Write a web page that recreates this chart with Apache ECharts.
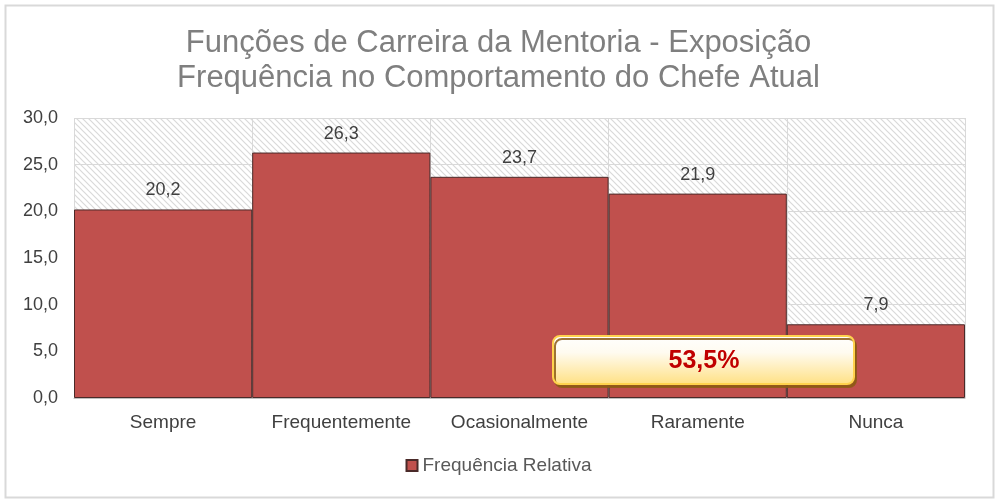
<!DOCTYPE html>
<html><head><meta charset="utf-8">
<script src="https://cdn.jsdelivr.net/npm/echarts@6/dist/echarts.min.js"></script>
<style>html,body{margin:0;padding:0;background:#fff}#c{width:997px;height:504px}</style>
</head><body><div id="c"></div>
<script>
const titleLines = ['Funções de Carreira da Mentoria - Exposição', 'Frequência no Comportamento do Chefe Atual'];
const categories = ['Sempre', 'Frequentemente', 'Ocasionalmente', 'Raramente', 'Nunca'];
const values = [20.2, 26.3, 23.7, 21.9, 7.9];
const seriesName = 'Frequência Relativa';
const annotation = '53,5%';

function hatch() {
  const c = document.createElement('canvas');
  c.width = 6; c.height = 6;
  const g = c.getContext('2d');
  g.fillStyle = '#ffffff'; g.fillRect(0,0,6,6);
  g.strokeStyle = '#d9d9d9'; g.lineWidth = 1.2;
  g.beginPath();
  g.moveTo(-1,-1); g.lineTo(7,7);
  g.moveTo(-4,2); g.lineTo(4,10);
  g.moveTo(2,-4); g.lineTo(10,4);
  g.stroke();
  return c;
}
const FF = 'Liberation Sans, Arial, sans-serif';
const fmt = v => v.toFixed(1).replace('.', ',');
const chart = echarts.init(document.getElementById('c'));
chart.setOption({
  animation: false,
  textStyle: {fontFamily: FF},
  title: {
    text: titleLines.join('\n'), left: 'center', top: 21,
    textStyle: {fontSize: 31, fontWeight: 'normal', color: '#7f7f7f', lineHeight: 35, fontFamily: FF}
  },
  legend: {
    bottom: 24, left: 'center', itemWidth: 11, itemHeight: 11, itemGap: 4,
    icon: 'rect',
    textStyle: {fontSize: 19, color: '#595959'},
    data: [seriesName]
  },
  grid: {left: 74, right: 32, top: 118, bottom: 106, show: true, borderWidth: 0,
    backgroundColor: {image: hatch(), repeat: 'repeat'}},
  xAxis: {
    type: 'category', data: categories,
    axisLine: {lineStyle: {color: '#bfbfbf'}},
    axisTick: {show: false},
    splitLine: {show: true, interval: 0, lineStyle: {color: '#d9d9d9'}},
    axisLabel: {interval: 0, fontSize: 19, color: '#404040', margin: 15}
  },
  yAxis: {
    type: 'value', min: 0, max: 30, interval: 5,
    axisLine: {show: false}, axisTick: {show: false},
    splitLine: {lineStyle: {color: '#d9d9d9'}},
    axisLabel: {fontSize: 18, color: '#404040', formatter: fmt, margin: 16}
  },
  series: [{
    name: seriesName, type: 'bar', data: values, barCategoryGap: '0%',
    itemStyle: {color: '#c0504d', borderColor: '#4a2a29', borderWidth: 1},
    label: {show: true, position: 'top', distance: 10, fontSize: 18, color: '#404040', formatter: p => fmt(p.value)}
  }],
  graphic: [
    {type: 'rect', left: 3, top: 3, shape: {width: 988, height: 492}, style: {fill: 'none', stroke: '#d9d9d9', lineWidth: 2}, silent: true, z: 100},
    {type: 'group', left: 552, top: 335, z: 100, children: [
      {type: 'rect', z: 100, shape: {x: 0, y: 0, width: 301, height: 48, r: 7},
        style: {
          fill: new echarts.graphic.LinearGradient(0,0,0,1,[{offset:0,color:'#ffffff'},{offset:0.35,color:'#fffbf0'},{offset:1,color:'#ffe082'}]),
          stroke: '#ffd24d', lineWidth: 2,
          shadowColor: 'rgba(140,90,20,0.85)', shadowOffsetX: 2, shadowOffsetY: 3, shadowBlur: 0
        }},
      {type: 'text', z: 101, x: 151, y: 25, style: {text: annotation, align: 'center', verticalAlign: 'middle', fontSize: 25, fontWeight: 'bold', fill: '#c00000', fontFamily: FF}}
    ]}
  ]
});
</script></body></html>
